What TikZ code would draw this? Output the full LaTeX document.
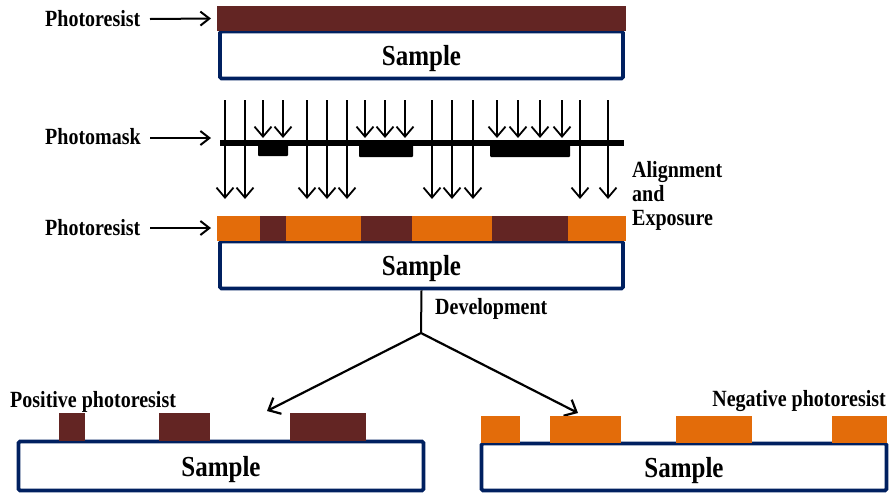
\documentclass[tikz,border=0pt]{standalone}
\usepackage{fontspec}
\usepackage{graphicx}
\setmainfont{Liberation Serif}
\usetikzlibrary{arrows.meta}
\definecolor{navybox}{HTML}{002060}
\definecolor{pdark}{HTML}{632523}
\definecolor{porange}{HTML}{E36C0A}
\newcommand{\vstr}[1]{\scalebox{1}[1.16]{#1}}
\tikzset{
  samplebox/.style={draw=navybox, line width=3.8pt, fill=white, rounded corners=1.5pt, inner sep=0pt,
    text height=20pt, text depth=0pt,
    font=\fontsize{25}{28}\selectfont\bfseries},
  lbl/.style={inner sep=0pt, font=\fontsize{20}{24}\selectfont\bfseries},
  ptr/.style={line width=2pt, -{Straight Barb[length=9pt,width=14pt,line width=2pt]}},
  ray/.style={line width=1.8pt, -{Straight Barb[length=10pt,width=17pt,line width=1.8pt]}},
  devarrow/.style={line width=2.2pt, -{Straight Barb[length=10pt,width=18pt,line width=2.2pt]}},
  bar/.style={inner sep=0pt, outer sep=0pt, draw=none}
}
\begin{document}
\begin{tikzpicture}[x=1pt,y=-1pt]
\useasboundingbox (0,0) rectangle (889,496);
% ---- top
\node[samplebox, minimum width=403pt, minimum height=47pt] (s1) at (421.5,55) {\vstr{Sample}};
\node[bar, fill=pdark, minimum width=409pt, minimum height=25pt] (r1) at (421.5,18.5) {};
\node[lbl, anchor=west] (l1) at (45,19) {\vstr{Photoresist}};
\draw[ptr] (150,19) -- (r1.west -| 211,0);
% ---- mask + rays
\foreach \x in {225,245,307,327,347,432,452,473,580,608}
  \draw[ray] (\x,100) -- (\x,199);
\foreach \x in {263,283,365,385,405,497,518,540,562}
  \draw[ray] (\x,100) -- (\x,138);
\draw[line width=5.5pt] (220,143) -- (624,143);
\fill[rounded corners=1pt] (258,141) rectangle (288,156);
\fill[rounded corners=1pt] (359,141) rectangle (413,157);
\fill[rounded corners=1pt] (490,141) rectangle (570,157);
\node[lbl, anchor=west] (l2) at (45,137) {\vstr{Photomask}};
\draw[ptr] (150,138) -- (211,138);
\node[lbl, anchor=west, align=left] (al) at (632,196) {\vstr{Alignment}\\\vstr{and}\\\vstr{Exposure}};
% ---- exposed
\node[samplebox, minimum width=403pt, minimum height=47pt] (s2) at (421.5,265) {\vstr{Sample}};
\node[bar, fill=porange, minimum width=409pt, minimum height=25pt] (r2) at (421.5,228.5) {};
\fill[pdark] (260,216) rectangle (286,241);
\fill[pdark] (361,216) rectangle (412,241);
\fill[pdark] (492,216) rectangle (568,241);
\node[lbl, anchor=west] (l3) at (45,228) {\vstr{Photoresist}};
\draw[ptr] (150,228) -- (211,228);
% ---- development
\coordinate (dv) at (421,333);
\coordinate (tl) at (267,411);
\coordinate (tr) at (578,413);
\draw[line width=2pt] (s2.south) -- (dv);
\draw[devarrow] (dv) -- (tl);
\draw[devarrow] (dv) -- (tr);
\node[lbl, anchor=west] (dev) at (435,309) {\vstr{Development}};
% ---- positive
\node[samplebox, minimum width=405pt, minimum height=49pt] (s3) at (221,466) {\vstr{Sample}};
\fill[pdark] (59,413) rectangle (85,441);
\fill[pdark] (159,413) rectangle (210,441);
\fill[pdark] (290,413) rectangle (366,441);
\node[lbl, anchor=west] (pos) at (10,402) {\vstr{Positive photoresist}};
% ---- negative
\node[samplebox, minimum width=405pt, minimum height=47pt] (s4) at (684,467) {\vstr{Sample}};
\fill[porange] (481,416) rectangle (520,443);
\fill[porange] (550,416) rectangle (621,443);
\fill[porange] (676,416) rectangle (752,443);
\fill[porange] (832,416) rectangle (887,443);
\node[lbl, anchor=east] (neg) at (886,401) {\vstr{Negative photoresist}};
\end{tikzpicture}
\end{document}
